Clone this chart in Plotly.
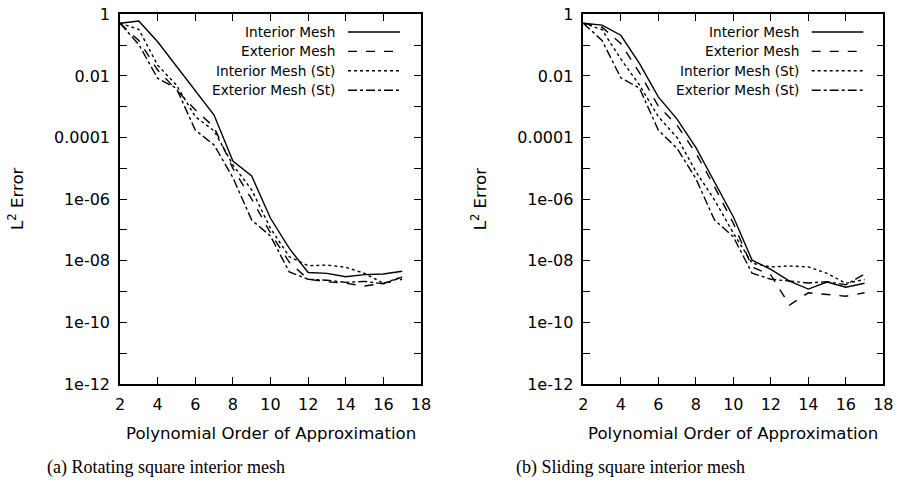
import plotly.graph_objects as go

orders = list(range(2, 18))

# log10 of L2 error
# (a) Rotating square interior mesh
a_interior = [-0.29, -0.22, -0.89, -1.68, -2.48, -3.27, -4.76, -5.25, -6.62, -7.60, -8.38, -8.41, -8.52, -8.45, -8.43, -8.34]
a_exterior = [-0.29, -0.85, -1.81, -2.45, -3.10, -3.66, -5.00, -6.00, -7.10, -8.05, -8.60, -8.68, -8.73, -8.82, -8.73, -8.60]
a_interior_st = [-0.29, -0.49, -1.65, -2.30, -3.32, -3.78, -4.89, -5.70, -6.95, -7.87, -8.16, -8.14, -8.21, -8.41, -8.73, -8.52]
a_exterior_st = [-0.29, -0.98, -2.08, -2.40, -3.76, -4.24, -5.30, -6.68, -7.20, -8.36, -8.60, -8.63, -8.70, -8.67, -8.75, -8.53]
# (b) Sliding square interior mesh
b_interior = [-0.29, -0.35, -0.68, -1.60, -2.68, -3.40, -4.32, -5.45, -6.57, -7.98, -8.28, -8.66, -8.92, -8.69, -8.86, -8.73]
b_exterior = [-0.29, -0.42, -0.95, -1.90, -2.98, -3.60, -4.50, -5.60, -6.78, -8.20, -8.46, -9.44, -9.04, -9.09, -9.15, -9.04]
b_interior_st = [-0.29, -0.50, -1.45, -2.30, -3.32, -4.00, -5.10, -6.03, -7.10, -8.08, -8.20, -8.17, -8.20, -8.41, -8.73, -8.61]
b_exterior_st = [-0.29, -0.85, -2.06, -2.40, -3.76, -4.35, -5.33, -6.68, -7.22, -8.40, -8.60, -8.67, -8.72, -8.68, -8.78, -8.43]

series_names = ["Interior Mesh", "Exterior Mesh", "Interior Mesh (St)", "Exterior Mesh (St)"]
dashes = ["solid", "dash", "dot", "dashdot"]

x_ticks = [2, 4, 6, 8, 10, 12, 14, 16, 18]
y_exps = list(range(-12, 1))
y_labels = {0: "1", -2: "0.01", -4: "0.0001", -6: "1e-06", -8: "1e-08", -10: "1e-10", -12: "1e-12"}
captions = ["(a) Rotating square interior mesh", "(b) Sliding square interior mesh"]

panels = [
    [a_interior, a_exterior, a_interior_st, a_exterior_st],
    [b_interior, b_exterior, b_interior_st, b_exterior_st],
]

W, H = 899, 484


def fx(px):
    return px / W


def fy(py):
    return 1 - py / H


axis_left = [120, 583.3]
axis_right = [421, 883.3]
xdomains = [(fx(axis_left[0]), fx(axis_right[0])), (fx(axis_left[1]), fx(axis_right[1]))]
ydomain = (fy(384), fy(14.3))

fig = go.Figure()
font = "DejaVu Sans"
for p, data in enumerate(panels):
    xa = "x" if p == 0 else "x2"
    ya = "y" if p == 0 else "y2"
    for s, vals in enumerate(data):
        fig.add_trace(go.Scatter(
            x=orders, y=[10 ** v for v in vals], mode="lines",
            line=dict(color="black", width=1.4, dash=dashes[s]),
            name=series_names[s], showlegend=False, xaxis=xa, yaxis=ya,
        ))

axis_common = dict(
    showline=True, linecolor="black", linewidth=1.5, mirror="allticks",
    ticks="inside", ticklen=7, tickwidth=1, tickcolor="black",
    showgrid=False, zeroline=False, automargin=False, ticklabeloverflow="allow",
    tickfont=dict(family=font, size=16, color="black"),
)

layout = dict(
    width=W, height=H, margin=dict(l=0, r=0, t=0, b=0, pad=0),
    plot_bgcolor="white", paper_bgcolor="white", showlegend=False,
)
for p in range(2):
    sfx = "" if p == 0 else "2"
    layout["xaxis" + sfx] = dict(
        axis_common, domain=xdomains[p], range=[2, 18], tickvals=x_ticks,
        ticktext=[str(t) for t in x_ticks], anchor="y" + sfx, ticklabelstandoff=5,
    )
    layout["yaxis" + sfx] = dict(
        axis_common, domain=ydomain, type="log", range=[-12, 0],
        tickvals=[10 ** e for e in y_exps],
        ticktext=[y_labels.get(e, "") for e in y_exps],
        anchor="x" + sfx, ticklabelstandoff=5,
    )
fig.update_layout(**layout)

annotations = []
shapes = []
for p in range(2):
    xc = (axis_left[p] + axis_right[p]) / 2
    annotations.append(dict(
        text="Polynomial Order of Approximation", xref="paper", yref="paper",
        x=fx(xc), y=fy(433), xanchor="center", yanchor="middle", showarrow=False,
        font=dict(family=font, size=16.6, color="black"),
    ))
    annotations.append(dict(
        text="L<sup>2</sup> Error", xref="paper", yref="paper",
        x=fx(axis_left[p] - 104), y=fy(199), xanchor="center", yanchor="middle",
        textangle=-90, showarrow=False,
        font=dict(family=font, size=16.6, color="black"),
    ))
    annotations.append(dict(
        text=captions[p], xref="paper", yref="paper",
        x=fx(165.5 if p == 0 else 630), y=fy(467), xanchor="center", yanchor="middle",
        showarrow=False, font=dict(family="Liberation Serif", size=18, color="black"),
    ))
    text_right = 337 if p == 0 else 800.7
    samp0 = 348 if p == 0 else 811.7
    samp1 = 400 if p == 0 else 863.3
    for s in range(4):
        yrow = 32 + s * 19.4
        annotations.append(dict(
            text=series_names[s], xref="paper", yref="paper",
            x=fx(text_right), y=fy(yrow), xanchor="right", yanchor="middle",
            showarrow=False, font=dict(family=font, size=13.7, color="black"),
        ))
        shapes.append(dict(
            type="line", xref="paper", yref="paper",
            x0=fx(samp0), x1=fx(samp1), y0=fy(yrow), y1=fy(yrow),
            line=dict(color="black", width=1.4, dash=dashes[s]),
        ))
fig.update_layout(annotations=annotations, shapes=shapes)

fig.write_html("out.html")
